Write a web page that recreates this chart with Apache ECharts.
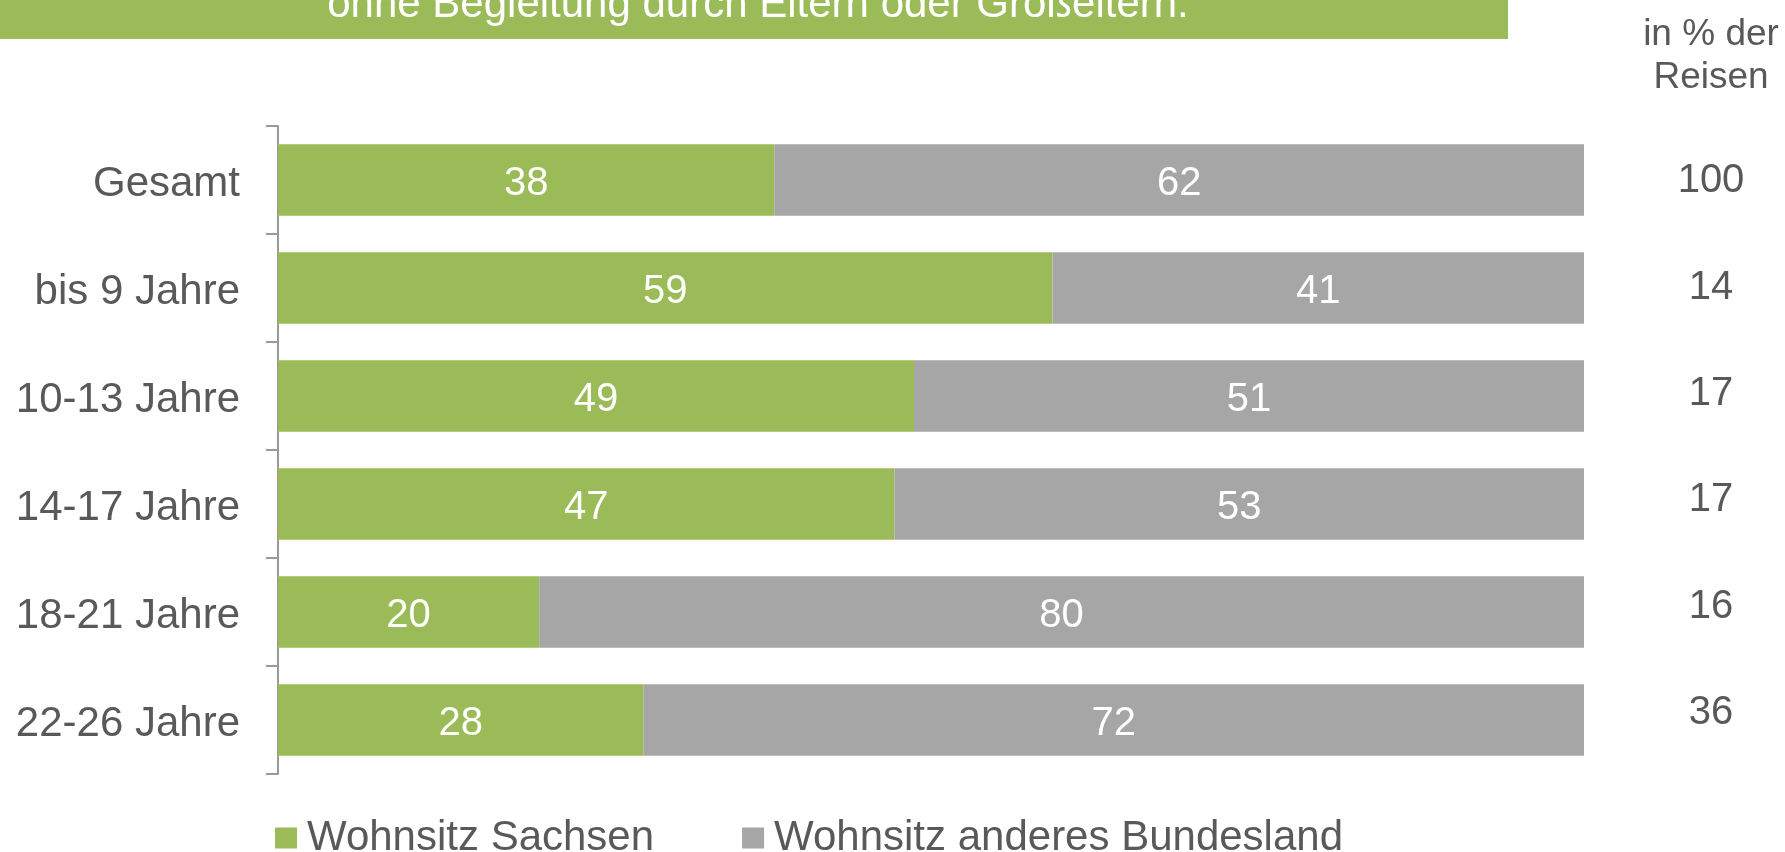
<!DOCTYPE html>
<html>
<head>
<meta charset="utf-8">
<script src="https://cdn.jsdelivr.net/npm/echarts@6/dist/echarts.min.js"></script>
<style>
  html, body { margin: 0; padding: 0; background: #fff; }
  #chart { width: 1785px; height: 852px; }
</style>
</head>
<body>
<div id="chart"></div>
<script>
// Daten (Balkenlängen aus dem Bild, Beschriftung gerundet)
var categories = ['Gesamt', 'bis 9 Jahre', '10-13 Jahre', '14-17 Jahre', '18-21 Jahre', '22-26 Jahre'];
var sachsen = [38, 59.3, 48.7, 47.2, 20, 28];
var andere = [62, 40.7, 51.3, 52.8, 80, 72];
var anteilReisen = [100, 14, 17, 17, 16, 36];
var seriesNames = ['Wohnsitz Sachsen', 'Wohnsitz anderes Bundesland'];

var font = '"Liberation Sans", Arial, sans-serif';
var textGrey = '#595959';
var green = '#9BBB59';
var grey = '#A6A6A6';

function rund(p) { return Math.round(p.value); }

var chart = echarts.init(document.getElementById('chart'));
chart.setOption({
    animation: false,
    textStyle: { fontFamily: font },
    color: [green, grey],
    graphic: [
        { type: 'rect', left: 0, top: 0, shape: { width: 1508, height: 39 }, style: { fill: green }, z: 0 },
        { type: 'text', x: 758, y: 5, z: 1,
          style: { text: 'ohne Begleitung durch Eltern oder Großeltern.', fill: '#fff',
                   font: '42px ' + font, align: 'center', verticalAlign: 'middle' } },
        { type: 'text', x: 1711, y: 56, z: 1,
          style: { text: 'in % der\nReisen', fill: textGrey, font: '37px ' + font,
                   lineHeight: 43, align: 'center', verticalAlign: 'middle' } }
    ],
    legend: {
        left: 275,
        top: 817,
        padding: 0,
        icon: 'rect',
        itemWidth: 22,
        itemHeight: 21,
        itemGap: 88,
        data: seriesNames,
        textStyle: { color: textGrey, fontSize: 42, fontFamily: font, padding: [0, 0, 0, 5] }
    },
    grid: [
        { left: 278, width: 1306, top: 126, height: 648, containLabel: false },
        { left: 1711, width: 1, top: 128, height: 638, containLabel: false }
    ],
    xAxis: [
        { type: 'value', min: 0, max: 100, show: false, gridIndex: 0 },
        { type: 'value', min: 0, max: 1, show: false, gridIndex: 1 }
    ],
    yAxis: [
        {
            type: 'category',
            gridIndex: 0,
            data: categories,
            inverse: true,
            axisLine: { show: true, lineStyle: { color: '#999', width: 2 } },
            axisTick: { show: true, length: 12, lineStyle: { color: '#999', width: 2 } },
            axisLabel: {
                color: textGrey, fontSize: 42, fontFamily: font, margin: 38,
                formatter: '{a|{value}}',
                rich: { a: { color: textGrey, fontSize: 42, fontFamily: font, padding: [8, 0, 0, 0] } }
            },
            splitLine: { show: false }
        },
        {
            type: 'category',
            gridIndex: 1,
            data: anteilReisen.map(String),
            inverse: true,
            position: 'left',
            axisLine: { show: false },
            axisTick: { show: false },
            axisLabel: { color: textGrey, fontSize: 40, fontFamily: font, margin: 0, align: 'center' }
        }
    ],
    series: [
        {
            name: seriesNames[0],
            type: 'bar',
            stack: 'total',
            barCategoryGap: '33.6%',
            data: sachsen,
            label: { show: true, position: 'inside', offset: [0, 4], color: '#fff', fontSize: 40, fontFamily: font, formatter: rund }
        },
        {
            name: seriesNames[1],
            type: 'bar',
            stack: 'total',
            barCategoryGap: '33.6%',
            data: andere,
            label: { show: true, position: 'inside', offset: [0, 4], color: '#fff', fontSize: 40, fontFamily: font, formatter: rund }
        }
    ]
});
</script>
</body>
</html>
